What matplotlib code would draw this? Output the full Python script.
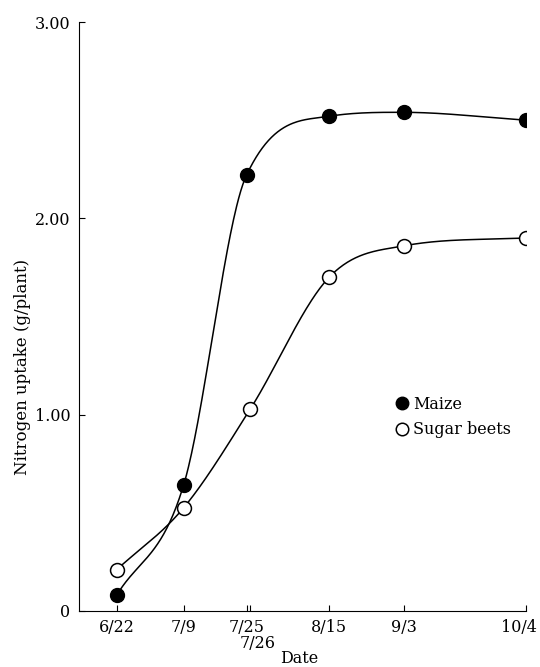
import numpy as np
import matplotlib.pyplot as plt
from matplotlib.transforms import ScaledTranslation

# day of year for each sampling date
maize_days = [173, 190, 206, 227, 246, 277]
maize_n = [0.08, 0.64, 2.22, 2.52, 2.54, 2.50]
beet_days = [173, 190, 207, 227, 246, 277]
beet_n = [0.21, 0.525, 1.03, 1.70, 1.86, 1.90]

tick_days = [173, 190, 206, 207, 227, 246, 277]
tick_labels = ['6/22', '7/9', '7/25', '', '8/15', '9/3', '10/4']


def smooth(x, y, xs):
    # Fritsch-Carlson cubic: mean-secant tangents, limited to avoid overshoot
    x = np.asarray(x, float)
    y = np.asarray(y, float)
    h = np.diff(x)
    d = np.diff(y) / h
    m = np.empty(len(x))
    m[0] = d[0]
    m[-1] = d[-1]
    m[1:-1] = (d[:-1] + d[1:]) / 2
    for i in range(len(d)):
        if d[i] == 0:
            m[i] = m[i + 1] = 0
            continue
        a = m[i] / d[i]
        b = m[i + 1] / d[i]
        s = a * a + b * b
        if s > 9:
            tau = 3 / np.sqrt(s)
            m[i] = tau * a * d[i]
            m[i + 1] = tau * b * d[i]
    k = np.clip(np.searchsorted(x, xs) - 1, 0, len(x) - 2)
    t = (xs - x[k]) / h[k]
    h00 = 2 * t ** 3 - 3 * t ** 2 + 1
    h10 = t ** 3 - 2 * t ** 2 + t
    h01 = -2 * t ** 3 + 3 * t ** 2
    h11 = t ** 3 - t ** 2
    return h00 * y[k] + h10 * h[k] * m[k] + h01 * y[k + 1] + h11 * h[k] * m[k + 1]


plt.rcParams['font.family'] = ['DejaVu Serif']

fig = plt.figure(figsize=(5.4, 6.67), dpi=100)
ax = fig.add_axes([0.146, 0.084, 0.828, 0.883])

xs = np.linspace(maize_days[0], maize_days[-1], 400)
ax.plot(xs, smooth(maize_days, maize_n, xs), color='black', lw=1.1)
ax.plot(xs, smooth(beet_days, beet_n, xs), color='black', lw=1.1)
ax.plot(maize_days, maize_n, 'o', ms=10, mfc='black', mec='black', label='Maize')
ax.plot(beet_days, beet_n, 'o', ms=10, mfc='white', mec='black', mew=1.1,
        label='Sugar beets')

ax.set_xlim(163.4, 277)
ax.set_ylim(0, 3.0)
ax.set_yticks([0, 1, 2, 3])
ax.set_yticklabels(['0', '1.00', '2.00', '3.00'])
ax.set_xticks(tick_days)
ax.set_xticklabels(tick_labels)
ax.annotate('7/26', xy=(207, 0), xycoords=('data', 'axes fraction'),
            xytext=(5, -17), textcoords='offset points', ha='center', va='top',
            fontsize=11.5)
ax.tick_params(direction='in', length=4, labelsize=11.5, pad=6)
# nudge the last date label so it stays inside the figure
last = ax.get_xticklabels()[-1]
last.set_transform(last.get_transform() + ScaledTranslation(-5 / 72, 0, fig.dpi_scale_trans))
for s in ['top', 'right']:
    ax.spines[s].set_visible(False)
ax.set_xlabel('Date', fontsize=11.5)
ax.xaxis.set_label_coords(0.494, -0.067)
ax.set_ylabel('Nitrogen uptake (g/plant)', fontsize=12)
ax.yaxis.set_label_coords(-0.108, 0.414)

ax.legend(loc='upper left', bbox_to_anchor=(0.672, 0.39), frameon=False,
          fontsize=11.5, handletextpad=0.2, markerscale=0.9, labelspacing=0.55,
          handlelength=1)

fig.savefig('out.png')
